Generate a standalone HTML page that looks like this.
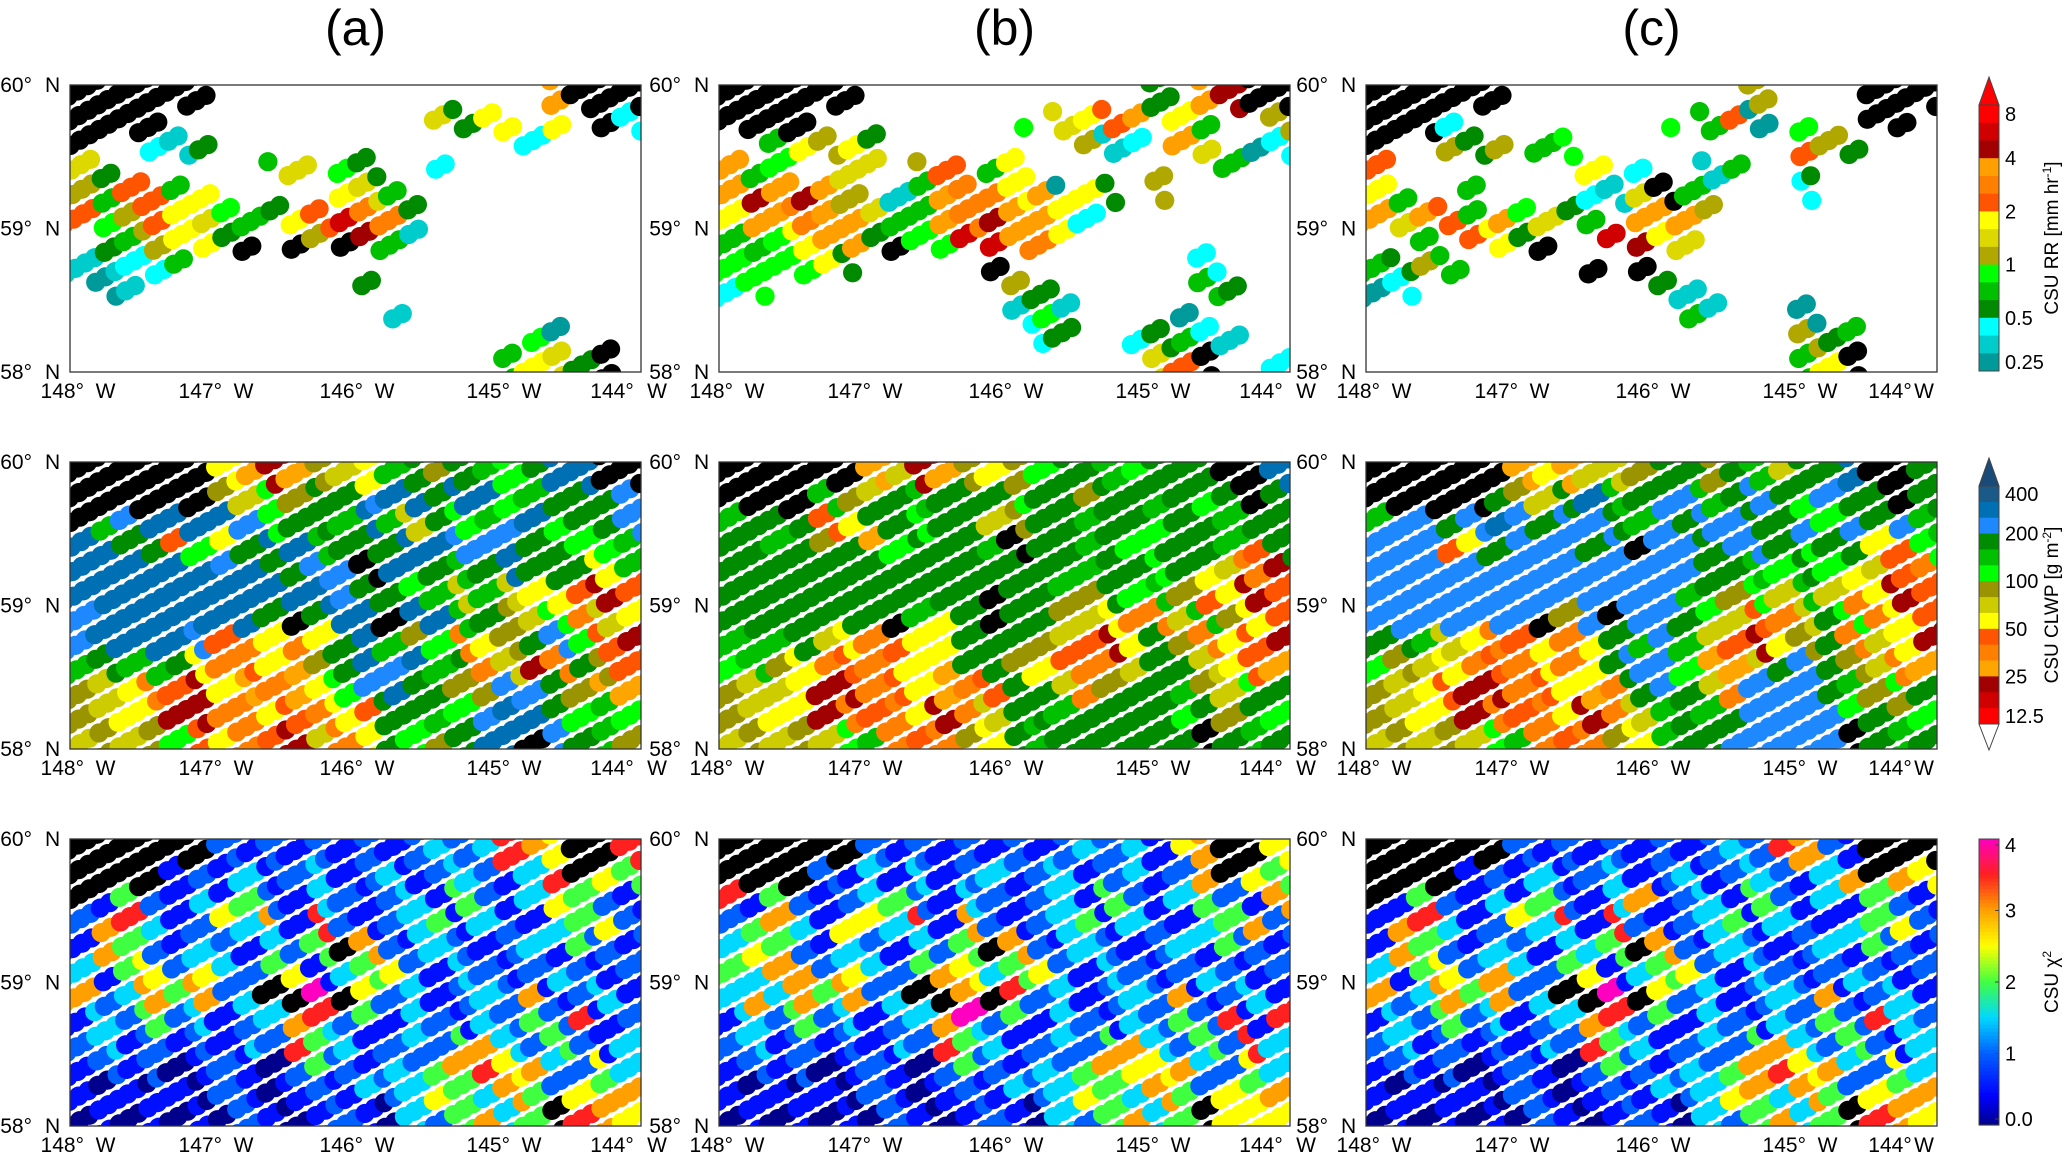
<!DOCTYPE html>
<html><head><meta charset="utf-8">
<style>
html,body{margin:0;padding:0;background:#fff;}
svg{display:block;font-family:"Liberation Sans",Arial,sans-serif;}
</style></head>
<body>
<svg id="fig" width="2067" height="1154" viewBox="0 0 2067 1154" xmlns="http://www.w3.org/2000/svg"></svg>
<script>
// ---------- DATA (gridded field codes per panel, 24 cols x 12 rows over 148W-144W, 60N-58N) ----------
const panelTitles = ["(a)", "(b)", "(c)"];
const latTicks = ["60°", "59°", "58°"];
const lonTicks = ["148°", "147°", "146°", "145°", "144°"];
const rrTicks = ["8", "4", "2", "1", "0.5", "0.25"];
const clwpTicks = ["400", "200", "100", "50", "25", "12.5"];
const chiTicks = [4, 3, 2, 1, 0];
const chiTickText = ["4", "3", "2", "1", "0.0"];

// Rain rate codes (a..p low->high, k = land, . = no data)
const rrA = [
"kkkkkk..............mkkk",
"kkkk...........hdii.i.kc",
"k..cbd.............c....",
"hd......eh.fd..c........",
"gejjei.....ihe..........",
"jfgjihfedijolld.........",
".degiidk.kgkneb.........",
"bbcce...................",
".ab.........d...........",
".............b..........",
"...................fa...",
"..................eihdk."];
const rrB = [
"kkkkkk............d.mnkk",
"kkkk........f.hijm.ie..g",
"..eigid........gbc.mh.ac",
"mef..hh.gj.ei.....g..e..",
"mnmnmg.bemllimaid.g.....",
"immlmmheemlnmmic........",
"eefimmdkffoomli.........",
"ffffid.....k........c...",
"cf..........gd......ed..",
"............bfb....a....",
".............cd..cdecb..",
"..................hjk..c"];
const rrC = [
"kkkkkk..........g....kkk",
"kkkc........f.eja.f..kk.",
"k..gdg.ef.........jgd...",
"j........i.c..be..d.....",
"ie..e....cbhkee...c.....",
"mhmjemfhde.mmmg.........",
"..e.jidk..onih..........",
"edge.....k.k............",
"ac..........db..........",
".............eb...a.....",
"..................gde...",
"..................eik..."];

// Cloud liquid water path codes
const clwpA = [
"kkkkkkyODOvYygGvGglGsskk",
"kkkkkkvYlvGGbssGsslgGGGb",
"kgbssssblGGgsgYGlgbslGGb",
"ssGGrlyGssgGGGssbbsGGllg",
"ssssssbsGGbbkssGgGsGGGyg",
"sssssssssssbGGlgYgYyyrDr",
"bsssssssGkGsskssgGvYloYy",
"bssssbroyoyGsgvloyvGblrD",
"gGggGyoryOvGsbsgGoYDoGvr",
"vYyorDyOoOylbsGGvvbbGvOO",
"vYyyDDooyroyrGGglbssGlgl",
"YvYvlryorDYoyGlvGsskbGgv"];
const clwpB = [
"kkkkkkOYDOvyvlGGglGGGkks",
"kkkkgvYGgGGGlGGvGGgGlGkG",
"gGGGryGGlGGYvGGgGGlGGgGG",
"GGgGvGOlGGGgkGGgGlGGGgrG",
"GGGGGGGGGGGGGGGgGGlGyYoD",
"GGGGGGGGGGGkGGgvGlgvryDr",
"GGGGGGGkgyGkGGvYyooYgvyr",
"gggGYyoryyGGGvYrDyGvoyrD",
"lgvyoroyyOGGvyrooYGGYyrO",
"vYYyDDoryOorGGYovGGgvYlG",
"vYyyDoroyDoYGGgGGGGlGvGl",
"YvYvYlgorovyGgGGGGGGkGgG"];
const clwpC = [
"kkkkkkOyOYYvGGvGgYGGskkG",
"kkkkkGvYGsgGbbgGbGlbGGkG",
"gbbGbsbGbbGgbGbbGGblbGbg",
"bbbryGbbbGbkbbGbbGlGGyrl",
"bbbbbbbbbbbbbbGGglGlyYro",
"bbbbbbbbbbbbbgGvlYgYoyDr",
"bbbbbbbkvbkbbGlYroYGloyr",
"GGgYyoryoyGgbgYrDyvGoYyD",
"lvYyoroyoyGbblOOYGbGvYoO",
"vYyrDDoryOoGbGYobbbGgvlG",
"vYyyDoroyDoYgGgGbbbblGvl",
"YvYvYlgorovygGGbbbbbkGgG"];

// Chi-square codes: digit d -> value d*0.5, k = land
const chiA = [
"kkkkkk212121212323765kk7",
"kkkk12131231231232137k54",
"k14213142132123142135421",
"267312536172123413213452",
"16421321324k621321231421",
"314525324513452132123212",
"62364623kk8k523123261231",
"132423123672413213242712",
"231212132743123246324213",
"121201210242132467563253",
"101010210121323543642546",
"01010102101210324634k765"];
const chiB = [
"kkkkkk212121212323156kk5",
"kkkk21313123123123126k54",
"714212342132123142134216",
"246315537162123413213462",
"35421321324k621321231421",
"436625324653452132123212",
"36364623kk6k723123261231",
"132423123682413213242717",
"231212132743123246324273",
"121201210242132465563253",
"101010210121323543642546",
"01010102101210324634k555"];
const chiC = [
"kkkkkk212121212327621kkk",
"kkkk12131231231232136k65",
"k14213142136123142131421",
"167312537172123413213452",
"16421321334k621321231421",
"314526324513452132123212",
"62364623kk8k523123261231",
"132423123672413213242732",
"231212132743123246324213",
"121201210242132467563253",
"101010210121323563642546",
"01010102101210324634k765"];

// ---------- STYLE ----------
const RRC = {a:'#009a9a',b:'#00cccc',c:'#00ffff',d:'#008a00',e:'#00c000',f:'#00ff00',g:'#b0a800',h:'#dcd800',i:'#ffff00',j:'#ff5500',l:'#ff7f00',m:'#ffa000',n:'#a00000',o:'#d00000',p:'#ff0000',k:'#000000'};
const RR_BINS = ['p','o','n','m','l','j','i','h','g','f','e','d','c','b','a'];
const CWC = {R:'#ff0000',C:'#d00000',D:'#a00000',O:'#ffa500',o:'#ff8000',r:'#ff5500',y:'#ffff00',Y:'#cccc00',v:'#9a9400',l:'#00ff00',g:'#00c000',G:'#008c00',b:'#1e88ff',s:'#0070b4',n:'#1a5a88',k:'#000000'};
const CW_BINS = ['n','s','b','G','g','l','v','Y','y','r','o','O','D','C','R'];
const JET = [[0,'#00008c'],[0.4,'#0000ff'],[1.0,'#0060ff'],[1.5,'#00d8ff'],[2.0,'#40ff40'],[2.5,'#ffff00'],[3.0,'#ffa000'],[3.5,'#ff2020'],[4.0,'#ff00c0']];
function hex2rgb(h){return [parseInt(h.substr(1,2),16),parseInt(h.substr(3,2),16),parseInt(h.substr(5,2),16)];}
function jet(v){
  for(let i=1;i<JET.length;i++){
    if(v<=JET[i][0]){const t=(v-JET[i-1][0])/(JET[i][0]-JET[i-1][0]);const a=hex2rgb(JET[i-1][1]),b=hex2rgb(JET[i][1]);
      return 'rgb('+a.map((x,k)=>Math.round(x+(b[k]-x)*t)).join(',')+')';}
  }
  return JET[JET.length-1][1];
}
const chiColor = ch => ch==='k' ? '#000' : jet(parseInt(ch,10)*0.5);

const NS='http://www.w3.org/2000/svg';
const svg=document.getElementById('fig');
function el(tag,attrs,parent){const e=document.createElementNS(NS,tag);for(const k in attrs)e.setAttribute(k,attrs[k]);(parent||svg).appendChild(e);return e;}

const colX=[70,719,1366], rowY=[85,462,839], W=571, H=287;
const panels=[
  [rrA,rrB,rrC, ch=>RRC[ch], 'rr'],
  [clwpA,clwpB,clwpC, ch=>CWC[ch], 'clwp'],
  [chiA,chiB,chiC, chiColor, 'chi']];

// axis functions: lattice (scan,i) -> pixel, pixel -> grid cell
const ang=29*Math.PI/180, ca=Math.cos(ang), sa=Math.sin(ang);
const ALONG=11, ACROSS=22;
function cellOf(x,y){return [Math.max(0,Math.min(23,Math.floor(x/W*24))),Math.max(0,Math.min(11,Math.floor(y/H*12)))];}

panelTitles.forEach((t,c)=>{
  const tx=el('text',{x:colX[c]+W/2,y:45,'font-size':50,'text-anchor':'middle',fill:'#000'});
  tx.textContent=t;
  
  
});

const defs=el('defs',{});
for(let r=0;r<3;r++){
  for(let c=0;c<3;c++){
    const px=colX[c],py=rowY[r],grid=panels[r][c],colorOf=panels[r][3];
    const cp=el('clipPath',{id:'cp'+r+c},defs);
    el('rect',{x:0,y:0,width:W,height:H},cp);
    const g=el('g',{transform:'translate('+px+','+py+')'});
    
    
    const dots=el('g',{'clip-path':'url(#cp'+r+c+')'},g);
    for(let j=-40;j<=22;j++){
      for(let i=-30;i<=80;i++){
        const x=i*ALONG*ca+j*ACROSS*sa, y=H-i*ALONG*sa+j*ACROSS*ca;
        if(x<-10||x>W+10||y<-10||y>H+10) continue;
        const [cc,rr]=cellOf(x,y);
        const ch=grid[rr][cc];
        if(ch==='.') continue;
        const d=el('circle',{cx:x.toFixed(1),cy:y.toFixed(1),r:9.6,fill:colorOf(ch)},dots);
        
        
      }
    }
    const fr=el('rect',{x:0,y:0,width:W,height:H,fill:'none',stroke:'#333','stroke-width':1.3},g);
    
    
    latTicks.forEach((t,k)=>{
      const yy=py+k*H/2+7;
      const a=el('text',{x:px-38,y:yy,'font-size':21,'text-anchor':'end'});a.textContent=t;
      
      
      const b=el('text',{x:px-25,y:yy,'font-size':21}); b.textContent='N';
      
      
    });
    const ly=py+H+26;
    const offs=[8,146,287,434];
    offs.forEach((o,k)=>{
      const t=el('text',{x:px+o,y:ly,'font-size':21,'text-anchor':'middle'});
      t.textContent=lonTicks[k]+'\u00a0\u00a0W';
      
      
    });
    const o144=c===2?524:542, w144=c===2?558:587;
    const t1=el('text',{x:px+o144,y:ly,'font-size':21,'text-anchor':'middle'}); t1.textContent=lonTicks[4];
    
    
    const t2=el('text',{x:px+w144,y:ly,'font-size':21,'text-anchor':'middle'}); t2.textContent='W';
    
    
  }
}

// ---------- COLORBARS ----------
const cbx=1979, cbw=20;
function discreteBar(top,bottom,bins,cmap,ticks,triTop,triBot,title,name){
  const g=el('g',{});
  
  
  const bh=(bottom-top)/bins.length;
  bins.forEach((b,k)=>{el('rect',{x:cbx,y:top+k*bh,width:cbw,height:bh+0.5,fill:cmap[b]},g);});
  if(triTop) el('polygon',{points:`${cbx},${top} ${cbx+cbw},${top} ${cbx+cbw/2},${top-28}`,fill:triTop,stroke:'#444','stroke-width':1},g);
  if(triBot) el('polygon',{points:`${cbx},${bottom} ${cbx+cbw},${bottom} ${cbx+cbw/2},${bottom+26}`,fill:triBot,stroke:'#444','stroke-width':1},g);
  el('rect',{x:cbx,y:top,width:cbw,height:bottom-top,fill:'none',stroke:'#444','stroke-width':1},g);
  const pos=[0.5,3,6,9,12,14.5];
  ticks.forEach((t,k)=>{
    const tx=el('text',{x:cbx+cbw+6,y:top+pos[k]*bh+7,'font-size':20},g); tx.textContent=t;
    
    
  });
  const cy=(top+bottom)/2;
  const tt=el('text',{x:2058,y:cy,'font-size':19,'text-anchor':'middle',transform:`rotate(-90 2058 ${cy})`},g);
  tt.innerHTML=title;
  
  
}
discreteBar(105,371,RR_BINS,RRC,rrTicks,'#ff0000',null,'CSU RR [mm hr<tspan dy="-7" font-size="12">-1</tspan><tspan dy="7">]</tspan>','colorbar-rain-rate');
discreteBar(486,724,CW_BINS,CWC,clwpTicks,'#1a4a78','#ffffff','CSU CLWP [g m<tspan dy="-7" font-size="12">-2</tspan><tspan dy="7">]</tspan>','colorbar-clwp');

(function(){
  const top=839,bottom=1125,g=el('g',{});
  
  
  const n=80,h=(bottom-top)/n;
  for(let k=0;k<n;k++){const v=4-(k+0.5)/n*4;el('rect',{x:cbx,y:top+k*h,width:cbw,height:h+0.6,fill:jet(v)},g);}
  el('rect',{x:cbx,y:top,width:cbw,height:bottom-top,fill:'none',stroke:'#444','stroke-width':1},g);
  chiTicks.forEach((v,k)=>{
    let y=bottom-v/4*(bottom-top);
    y=Math.max(top+6,Math.min(bottom-6,y));
    el('line',{x1:cbx+cbw-4,x2:cbx+cbw,y1:y,y2:y,stroke:'#444'},g);
    const tx=el('text',{x:cbx+cbw+6,y:y+7,'font-size':20},g); tx.textContent=chiTickText[k];
    
    
  });
  const cy=(top+bottom)/2;
  const tt=el('text',{x:2058,y:cy,'font-size':19,'text-anchor':'middle',transform:`rotate(-90 2058 ${cy})`},g);
  tt.innerHTML='CSU χ<tspan dy="-7" font-size="12">2</tspan>';
  
  
})();
</script>
</body></html>
